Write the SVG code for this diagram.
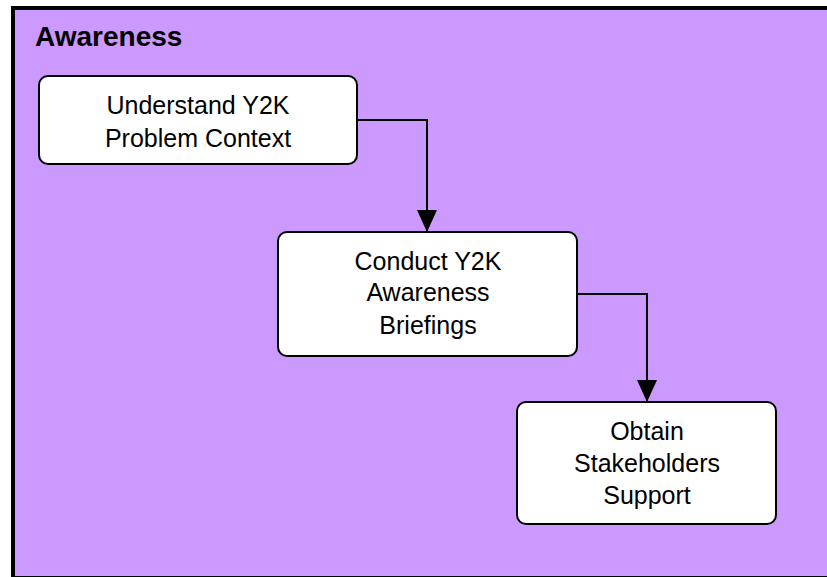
<svg xmlns="http://www.w3.org/2000/svg" width="827" height="577" viewBox="0 0 827 577">
<style>
.node rect{fill:#ffffff;stroke:#000000;stroke-width:2}
.node text{font-family:"Liberation Sans",Arial,sans-serif;font-size:25px;fill:#000000;text-anchor:middle}
.conn{fill:none;stroke:#000000;stroke-width:2}
.title{font-family:"Liberation Sans",Arial,sans-serif;font-size:28px;font-weight:bold;fill:#000000}
</style>
<defs>
<marker id="arr" markerWidth="22" markerHeight="20" refX="22" refY="10" orient="auto" markerUnits="userSpaceOnUse">
<path d="M0,0 L22,10 L0,20 Z" fill="#000000"/>
</marker>
</defs>
<rect x="0" y="0" width="827" height="577" fill="#ffffff"/>
<g id="panel">
<rect x="13" y="8" width="830" height="570" fill="#CC99FF" stroke="#000000" stroke-width="4"/>
<text class="title" x="35" y="46">Awareness</text>
</g>
<g id="connectors">
<path class="conn" d="M357,120 H427 V232" marker-end="url(#arr)"/>
<path class="conn" d="M577,294 H647 V402" marker-end="url(#arr)"/>
</g>
<g id="n1" class="node">
<rect x="39" y="76" width="318" height="88" rx="9" ry="9"/>
<text x="198" y="114">Understand Y2K</text>
<text x="198" y="147">Problem Context</text>
</g>
<g id="n2" class="node">
<rect x="278" y="232" width="299" height="124" rx="9" ry="9"/>
<text x="428" y="270">Conduct Y2K</text>
<text x="428" y="301">Awareness</text>
<text x="428" y="334">Briefings</text>
</g>
<g id="n3" class="node">
<rect x="517" y="402" width="259" height="122" rx="9" ry="9"/>
<text x="647" y="440">Obtain</text>
<text x="647" y="472">Stakeholders</text>
<text x="647" y="504">Support</text>
</g>
</svg>
